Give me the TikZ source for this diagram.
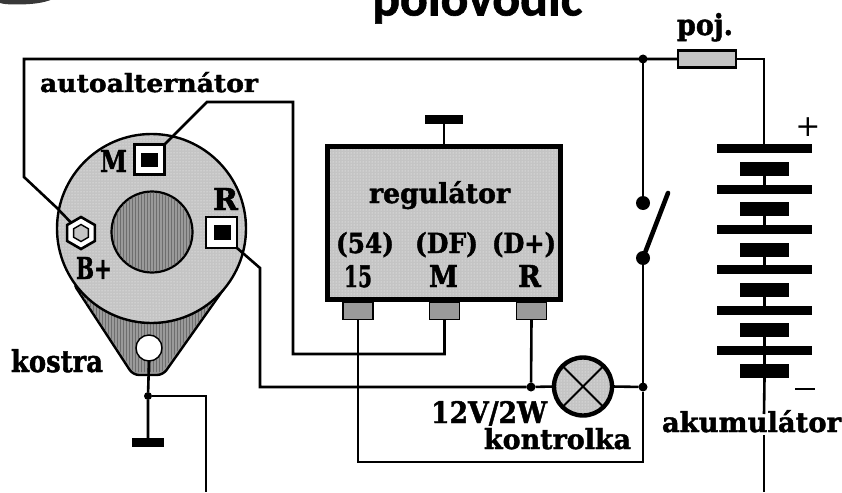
\documentclass[tikz,border=0pt]{standalone}
\usepackage{fontspec}
\usepackage{graphicx}
\setmainfont[BoldFeatures={FakeBold=1.6}]{DejaVu Serif}
\newfontfamily\titlefont[BoldFeatures={FakeBold=1.2}]{Carlito}
\usetikzlibrary{shapes.geometric,patterns}
\definecolor{litegray}{HTML}{C4C4C4}
\definecolor{midgray}{HTML}{9A9A9A}
\definecolor{stripegray}{HTML}{6E6E6E}
\newcommand\lab[6]{\node[lbl] (#1) at (#2,#3) {\resizebox{#4pt}{#5pt}{\bfseries #6}};}
\tikzset{
  x=1pt,y=-1pt,
  wire/.style={line width=2.6pt,line join=miter},
  lbl/.style={anchor=base west,inner sep=0pt,outer sep=0pt,text=black},
  dot/.style={circle,fill=black,inner sep=0pt,outer sep=0pt,minimum size=#1},
  plate/.style={rectangle,fill=black,inner sep=0pt,outer sep=0pt,minimum width=95pt,minimum height=9pt},
  cell/.style={rectangle,fill=black,inner sep=0pt,outer sep=0pt,minimum width=49pt,minimum height=14pt},
  term/.style={rectangle,draw=black,line width=1.6pt,fill=midgray,inner sep=0pt,outer sep=0pt,minimum width=30pt,minimum height=17pt},
  bar/.style={rectangle,fill=black,inner sep=0pt,outer sep=0pt,minimum height=9pt},
  port/.style={rectangle,draw=black,fill=white,line width=2.6pt,inner sep=0pt,outer sep=0pt,minimum size=#1},
  core/.style={rectangle,fill=black,inner sep=0pt,outer sep=0pt,minimum width=17pt,minimum height=14.5pt},
  speckle/.style={preaction={fill=litegray},pattern=dots,pattern color=white!88!litegray},
}
\begin{document}
\begin{tikzpicture}
\useasboundingbox (0,0) rectangle (842,492);
\clip (0,0) rectangle (842,492);
% title and corner remnant
\node[anchor=base west,inner sep=0pt] (title) at (372,15.5) {\resizebox{210pt}{!}{\titlefont\bfseries polovodič}};
\fill[black!78] (0,-1) -- (53,-1) .. controls (44,3) and (32,4.5) .. (16,4.5) .. controls (8,4.5) and (3,4) .. (0,3) -- cycle;

% named routing points
\coordinate (tl) at (24,59);
\coordinate (tlb) at (24,177);
\coordinate (bdiag) at (57,208);
\coordinate (mk) at (207,102);
\coordinate (mr) at (293,102);
\coordinate (mb) at (293,354);
\coordinate (rk) at (260,268);
\coordinate (rb) at (260,387);
\coordinate (gc) at (206,396);
\coordinate (ge) at (206,492);
\coordinate (lowl) at (358,462);
\coordinate (lowr) at (643,462);
\coordinate (batk) at (764,59);
\coordinate (bate) at (764,492);

% alternator
\draw[line width=2.4pt,fill=midgray,rounded corners=6pt] (73,283) -- (133,375) -- (163,375) -- (228,283) -- cycle;
\fill[pattern=vertical lines,pattern color=stripegray] (75,285) -- (134,372) -- (162,372) -- (226,285) -- cycle;
\node[circle,draw=black,line width=2.4pt,speckle,inner sep=0pt,outer sep=0pt,minimum size=189pt] (alt) at (151.5,228.5) {};
\node[circle,draw=black,line width=2.2pt,fill=midgray,inner sep=0pt,outer sep=0pt,minimum size=81pt] (rotor) at (152,232) {};
\fill[pattern=vertical lines,pattern color=stripegray] (152,232) circle (39.5);
\node[circle,draw=black,line width=1.4pt,fill=white,inner sep=0pt,outer sep=0pt,minimum size=26pt] (hole) at (149,348) {};
\node[port=30pt] (pm) at (149.5,159.5) {};
\node[core] (pmc) at (149.5,160) {};
\node[port=31pt] (pr) at (221.5,232.5) {};
\node[core] (prc) at (222.5,232.5) {};
\node[regular polygon,regular polygon sides=6,rotate=30,draw=black,fill=white,line width=2.6pt,inner sep=0pt,outer sep=0pt,minimum size=32pt] (hex) at (81,233) {};
\node[regular polygon,regular polygon sides=6,rotate=30,draw=black,fill=litegray,line width=1.4pt,inner sep=0pt,outer sep=0pt,minimum size=17pt] (hexi) at (81,233) {};

% regulator
\node[rectangle,draw=black,line width=5pt,speckle,inner sep=0pt,outer sep=0pt,minimum width=233pt,minimum height=153pt] (reg) at (444,223) {};
\node[term] (t15) at (358,311) {};
\node[term] (tm) at (444.5,311) {};
\node[term] (tr) at (531.5,311) {};
\node[bar,minimum width=38pt] (gr) at (444,119.5) {};

% lamp, fuse, battery
\node[circle,draw=black,line width=4.4pt,speckle,inner sep=0pt,outer sep=0pt,minimum size=58pt] (lamp) at (583,386.5) {};
\draw[line width=2pt] (lamp.north west) -- (lamp.south east) (lamp.north east) -- (lamp.south west);
\node[rectangle,draw=black,line width=2.4pt,fill=litegray,inner sep=0pt,outer sep=0pt,minimum width=58pt,minimum height=17pt] (fuse) at (707,59) {};
\node[plate] (p1) at (764.5,148.5) {};
\node[cell] (c1) at (764.5,169) {};
\node[plate] (p2) at (764.5,189) {};
\node[cell] (c2) at (764.5,209) {};
\node[plate] (p3) at (764.5,229) {};
\node[cell] (c3) at (764.5,249.5) {};
\node[plate] (p4) at (764.5,269.5) {};
\node[cell] (c4) at (764.5,290) {};
\node[plate] (p5) at (764.5,310.5) {};
\node[cell] (c5) at (764.5,330) {};
\node[plate] (p6) at (764.5,350.5) {};
\node[cell] (c6) at (764.5,370.5) {};
\draw[line width=3pt] (c1) -- (p2) (c2) -- (p3) (c3) -- (p4) (c4) -- (p5) (c5) -- (p6) (p6) -- (c6);

% junctions
\node[dot=9pt] (jtop) at (643,59) {};
\node[dot=14pt] (sw1) at (643,203) {};
\node[dot=14pt] (sw2) at (643,258) {};
\node[dot=9pt] (jr) at (531,387) {};
\node[dot=9pt] (jl) at (643,387) {};
\node[dot=8pt] (jg) at (148,396) {};
\coordinate (swtip) at (668,193);
\node[bar,minimum width=32pt] (gnd) at (148,442.5) {};

% wires
\draw[wire] (hex) -- (bdiag) -- (tlb) -- (tl) -- (fuse.west);
\draw[wire] (fuse.east) -- (batk) -- (p1.north -| batk);
\draw[wire] (jtop) -- (sw1);
\draw[line width=4.6pt,line cap=round] (sw2) -- (swtip);
\draw[wire] (sw2) -- (jl) -- (lowr) -- (lowl) -- (t15.south);
\draw[wire] (pm.north east) -- (mk) -- (mr) -- (mb) -| (tm.south);
\draw[wire] (pr.south east) -- (rk) -- (rb) -- (jr) -- (lamp.west);
\draw[wire] (tr.south) -- (jr);
\draw[wire] (lamp.east) -- (jl);
\draw[wire] (hole.south) -- (jg) -- (gnd.north);
\draw[wire] (jg) -- (gc) -- (ge);
\draw[wire] (reg.north) -- (gr.south);
\coordinate (a1) at (764,414);
\coordinate (a2) at (764,435);
\draw[wire] (c6.south) -- (a1);
\draw[wire] (a2) -- (bate);

% texts
\lab{tauto}{40}{92}{218}{20}{autoalternátor}
\lab{tm1}{100}{172}{27}{22}{M}
\lab{tr1}{213}{210}{25}{22}{R}
\lab{tb}{76}{279}{36}{22}{B+}
\lab{tkostra}{11}{372}{92}{23}{kostra}
\lab{treg}{369}{203}{141}{22}{regulátor}
\lab{t54}{336}{253}{58}{21}{(54)}
\lab{tdf}{415}{253}{63}{21}{(DF)}
\lab{tdp}{492}{253}{64}{21}{(D+)}
\lab{t15l}{344}{287}{28}{22}{15}
\lab{tml}{429}{287}{29}{22}{M}
\lab{trl}{518}{287}{23}{22}{R}
\lab{t12}{431}{423}{116}{22}{12V/2W}
\lab{tkon}{484}{449}{147}{21}{kontrolka}
\lab{tak}{662}{432}{179}{22}{akumulátor}
\lab{tpoj}{677}{35}{56}{22}{poj.}
\node[inner sep=0pt,font=\fontsize{30}{30}\selectfont] (plus) at (808,127) {+};
\node[inner sep=0pt,font=\fontsize{30}{30}\selectfont] (minus) at (805,389) {\rule{20pt}{2pt}};
\end{tikzpicture}
\end{document}
